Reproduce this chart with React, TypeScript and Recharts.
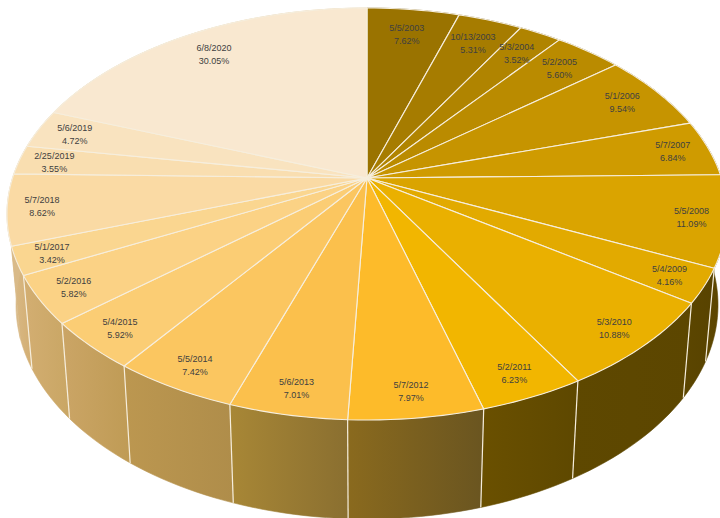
import React from "react";
import { PieChart, Pie } from "recharts";

// Release dates and the percentage printed on each slice, clockwise from twelve o'clock.
const dates = [
  "5/5/2003", "10/13/2003", "5/3/2004", "5/2/2005", "5/1/2006", "5/7/2007", "5/5/2008",
  "5/4/2009", "5/3/2010", "5/2/2011", "5/7/2012", "5/6/2013", "5/5/2014", "5/4/2015",
  "5/2/2016", "5/1/2017", "5/7/2018", "2/25/2019", "5/6/2019", "6/8/2020",
];
const percents = [
  7.62, 5.31, 3.52, 5.6, 9.54, 6.84, 11.09, 4.16, 10.88, 6.23, 7.97, 7.01, 7.42, 5.92,
  5.82, 3.42, 8.62, 3.55, 4.72, 30.05,
];

const topColors = [
  "#9A7300", "#A67C00", "#B08400", "#BA8B00", "#C69400", "#CF9B00", "#DAA400", "#E2AA00",
  "#EAB000", "#F2B600", "#FDBB2A", "#FBC04C", "#FBC660", "#FBCD74", "#FBD285", "#FAD690",
  "#FADAA4", "#F9DEB0", "#F9E3BF", "#F9E8D0",
];
// Side wall shading, [left colour, right colour] on screen.
const wallColors = [
  ["#5C4600", "#5C4600"], ["#5C4600", "#5C4600"], ["#5C4600", "#5C4600"], ["#5C4600", "#5C4600"],
  ["#5C4600", "#5C4600"], ["#5C4600", "#5C4600"], ["#5E4700", "#5A4400"], ["#5C4600", "#584300"],
  ["#5E4800", "#5C4600"], ["#6A5000", "#5E4800"], ["#8A6A1E", "#6A5520"], ["#A88736", "#8A6F30"],
  ["#BC9750", "#AF8D4A"], ["#CBA566", "#BF9B55"], ["#D3AE72", "#C9A664"], ["#D9BA88", "#D3AE72"],
  ["#D9BA88", "#D9BA88"], ["#D9BA88", "#D9BA88"], ["#D9BA88", "#D9BA88"], ["#D9BA88", "#D9BA88"],
];

const rows = dates.map((date, i) => ({
  date,
  value: percents[i],
  fill: topColors[i],
  wall: wallColors[i],
}));

// Tilted disc: the top and bottom rims are ellipses and the hub sits behind the ellipse centre.
const CX = 367;
const TOP_CY = 214;
const TOP_RX = 360;
const TOP_RY = 206;
const BOTTOM_CY = 305;
const BOTTOM_RX = 351;
const BOTTOM_RY = 214;
const TILT = 0.175;
const SEAM = "#F6EEDD";
// Edges this close to the left or right silhouette show no seam on the wall.
const SEAM_MIN_DEPTH = -0.35;

const toRad = (deg: number) => (deg * Math.PI) / 180;

// Perspective map of a point on the unit disc, y pointing away from the viewer.
function tilt(x: number, y: number) {
  const k = 1 + TILT * y;
  return { x: (x * Math.sqrt(1 - TILT * TILT)) / k, y: (y + TILT) / k };
}

function topPoint(angle: number, r = 1) {
  const p = tilt(r * Math.cos(toRad(angle)), r * Math.sin(toRad(angle)));
  return { x: CX + p.x * TOP_RX, y: TOP_CY - p.y * TOP_RY };
}

function bottomPoint(angle: number) {
  const p = tilt(Math.cos(toRad(angle)), Math.sin(toRad(angle)));
  return { x: CX + p.x * BOTTOM_RX, y: BOTTOM_CY - p.y * BOTTOM_RY };
}

function sweep(start: number, end: number) {
  const steps = Math.max(2, Math.ceil(Math.abs(end - start) / 1.5));
  return Array.from({ length: steps + 1 }, (_, i) => start + ((end - start) * i) / steps);
}

const toPath = (pts: { x: number; y: number }[]) =>
  pts.map((p, i) => `${i ? "L" : "M"}${p.x.toFixed(2)} ${p.y.toFixed(2)}`).join("") + "Z";

function WallSlice(props: any) {
  const { startAngle, endAngle, payload, index } = props;
  const angles = sweep(startAngle, endAngle);
  const upper = angles.map((a) => topPoint(a));
  const lower = angles.map((a) => bottomPoint(a)).reverse();
  const pts = [...upper, ...lower];
  const xs = pts.map((p) => p.x);
  const id = `wall-${index ?? payload.date.replace(/\//g, "-")}`;
  const wall = payload.wall ?? props.wall;
  const seamTop = topPoint(startAngle);
  const seamBottom = bottomPoint(startAngle);
  const showSeam = Math.sin(toRad(startAngle)) < SEAM_MIN_DEPTH;
  return (
    <g>
      <defs>
        <linearGradient
          id={id}
          gradientUnits="userSpaceOnUse"
          x1={Math.min(...xs)}
          x2={Math.max(...xs)}
          y1={0}
          y2={0}
        >
          <stop offset="0" stopColor={wall[0]} />
          <stop offset="1" stopColor={wall[1]} />
        </linearGradient>
      </defs>
      <path d={toPath(pts)} fill={`url(#${id})`} stroke={`url(#${id})`} strokeWidth={0.6} />
      {showSeam && (
        <line
          x1={seamTop.x}
          y1={seamTop.y}
          x2={seamBottom.x}
          y2={seamBottom.y}
          stroke={SEAM}
          strokeWidth={1.2}
        />
      )}
    </g>
  );
}

function TopSlice(props: any) {
  const { startAngle, endAngle, fill } = props;
  const rim = sweep(startAngle, endAngle).map((a) => topPoint(a));
  const hub = topPoint(0, 0);
  return <path d={toPath([hub, ...rim])} fill={fill} stroke={SEAM} strokeWidth={1.1} strokeLinejoin="round" />;
}

function SliceLabel(props: any) {
  const { midAngle, payload } = props;
  const sinA = Math.sin(toRad(midAngle));
  const pos = topPoint(midAngle, 0.905 - 0.07 * Math.max(sinA, 0));
  const row = payload.payload ?? payload;
  return (
    <text
      x={pos.x}
      textAnchor="middle"
      fontFamily="'Liberation Sans', sans-serif"
      fontSize={9}
      fill="#404040"
    >
      <tspan x={pos.x} y={pos.y - 3}>{row.date}</tspan>
      <tspan x={pos.x} y={pos.y + 10}>{`${row.value.toFixed(2)}%`}</tspan>
    </text>
  );
}

export default function App() {
  return (
    <div style={{ position: "absolute", left: 0, top: 0, width: 720, height: 518, background: "#fff" }}>
      <PieChart width={720} height={518} margin={{ top: 0, right: 0, bottom: 0, left: 0 }}>
        <Pie
          data={rows}
          dataKey="value"
          nameKey="date"
          cx={CX}
          cy={TOP_CY}
          outerRadius={TOP_RY}
          startAngle={90}
          endAngle={-270}
          stroke="none"
          shape={WallSlice}
          isAnimationActive={false}
          labelLine={false}
        />
        <Pie
          data={rows}
          dataKey="value"
          nameKey="date"
          cx={CX}
          cy={TOP_CY}
          outerRadius={TOP_RY}
          startAngle={90}
          endAngle={-270}
          stroke="none"
          shape={TopSlice}
          isAnimationActive={false}
          labelLine={false}
          label={SliceLabel}
        />
      </PieChart>
    </div>
  );
}
